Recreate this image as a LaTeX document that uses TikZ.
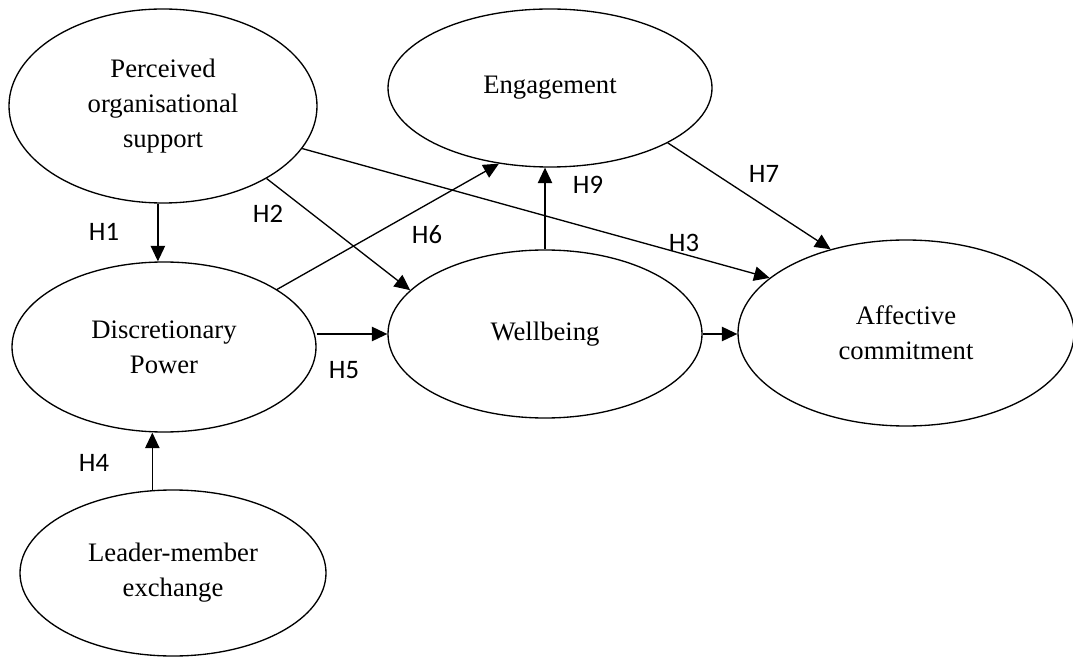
\documentclass[tikz,border=0pt]{standalone}
\usepackage{fontspec}
\setmainfont{Liberation Serif}
\newfontfamily\hypfont{Carlito}
\usetikzlibrary{shapes.geometric,arrows.meta}
\tikzstyle{construct} = [ellipse, draw=black, line width=.6pt, inner sep=0pt, align=center, font=\fontsize{12}{15.75}\selectfont]
\tikzstyle{hyp} = [inner sep=0pt, font=\hypfont\fontsize{12}{14}\selectfont]
\tikzstyle{effect} = [line width=.6pt, -{Triangle[length=7pt,width=6.5pt]}]

\begin{document}
\begin{tikzpicture}[x=.45pt, y=-.45pt]%
			\useasboundingbox (0,0) rectangle (1073,657);
			\node [construct, minimum width=138.6pt, minimum height=87.3pt] (pos) at (163,106) {Perceived\\organisational\\support};
			\node [construct, minimum width=136.8pt, minimum height=76.5pt] (dp) at (164,347) {Discretionary\\Power};
			\node [construct, minimum width=137.7pt, minimum height=74.7pt] (lmx) at (173,573) {Leader-member\\exchange};
			\node [construct, minimum width=145.8pt, minimum height=71.1pt] (eng) at (550,88) {Engagement};
			\node [construct, minimum width=141.3pt, minimum height=75.6pt] (wb) at (545,334) {Wellbeing};
			\node [construct, minimum width=151.2pt, minimum height=83.7pt] (ac) at (906,333) {Affective\\commitment};
			\foreach \n/\x/\y in {1/104/232, 2/268/214, 3/684/243, 4/94/463, 5/344/370, 6/427/235, 7/764/174, 9/588/185}
				\node [hyp] (h\n) at (\x,\y) {H\n};
			\draw[effect] (pos.-93.5) -- (pos.-93.5 |- dp.north);
			\draw[effect] (pos.-35.2) -- (wb.162.2);
			\draw[effect] (pos.-17.1) -- (ac.158.7);
			\draw[effect] (lmx.104) -- (lmx.104 |- dp.south);
			\draw[effect] (wb.west -| dp.east) -- (wb.west);
			\draw[effect] (dp.27) -- (eng.-124.5);
			\draw[effect] (eng.-25.4) -- (ac.132.5);
			\draw[effect] (wb.north) -- (wb.north |- eng.south);
			\draw[effect] (wb.east) -- (wb.east -| ac.west);
		\end{tikzpicture}
\end{document}
